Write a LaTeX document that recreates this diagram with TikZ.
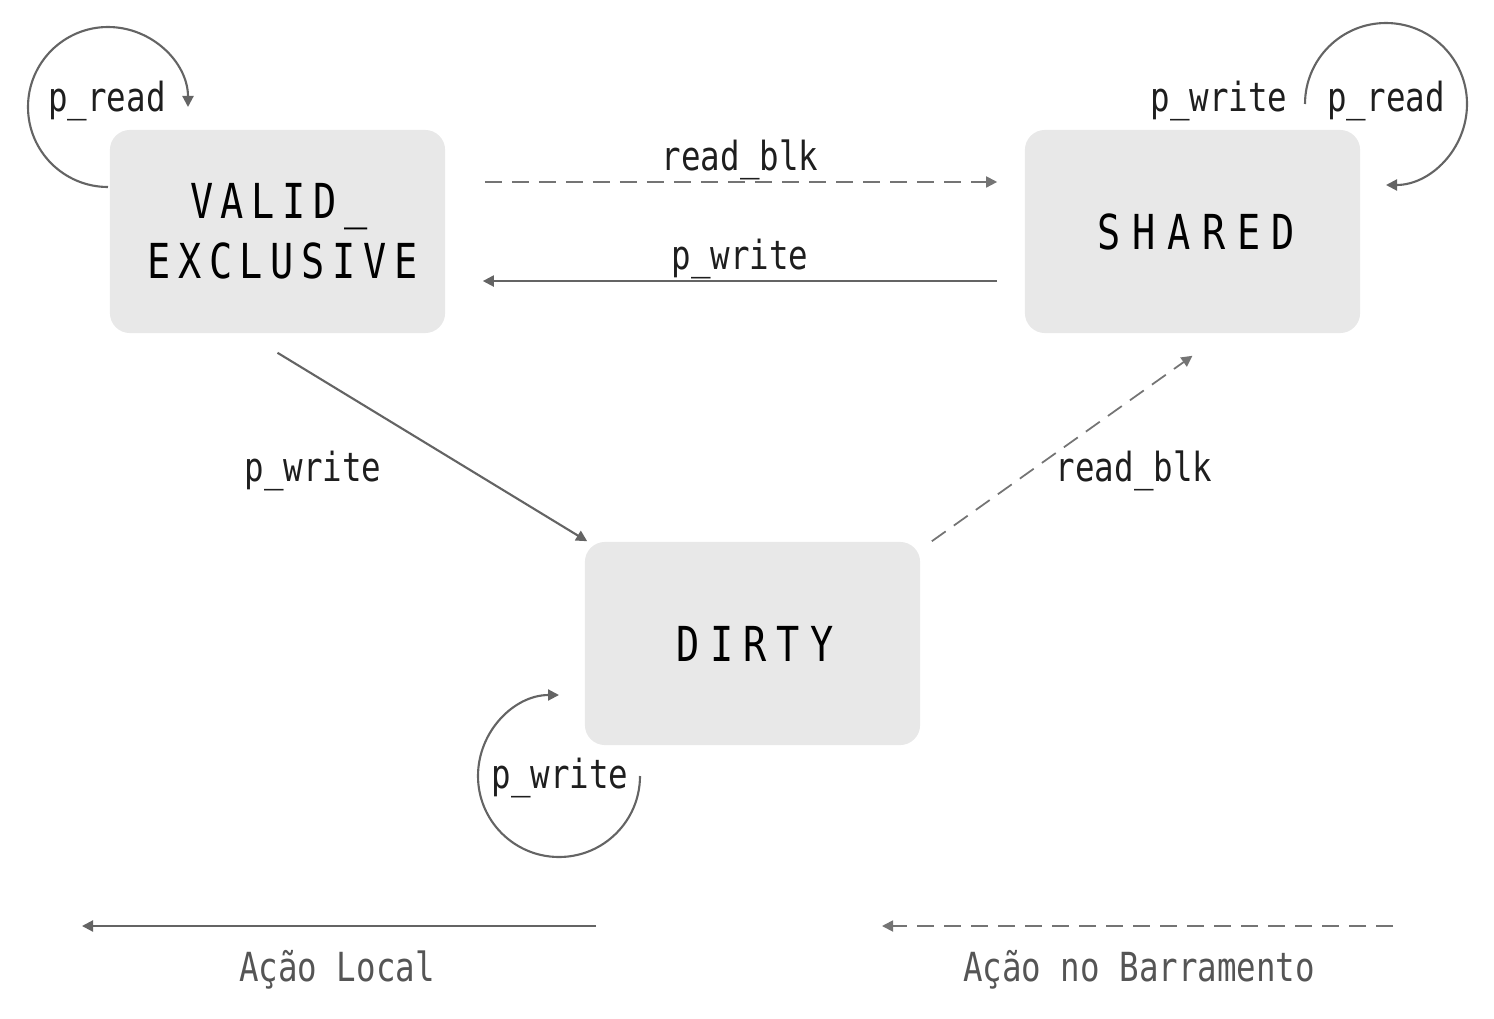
\documentclass[tikz,border=0pt]{standalone}
\usepackage{fontspec}
\usetikzlibrary{arrows.meta}
\newfontfamily\statefont[FakeStretch=0.8]{DejaVu Sans Mono}
\newfontfamily\labelfont[FakeStretch=0.81]{DejaVu Sans Mono}
\newcommand{\track}[1]{\addfontfeature{LetterSpace=#1}}
\definecolor{boxgray}{HTML}{E8E8E8}
\definecolor{linegray}{HTML}{646464}
\definecolor{dashgray}{HTML}{747474}
\definecolor{txtgray}{HTML}{555555}
\definecolor{lbltxt}{HTML}{1E1E1E}

\begin{document}
\begin{tikzpicture}[x=0.01cm,y=-0.01cm,
  state/.style={fill=boxgray,rounded corners=0.2cm,minimum width=3.35cm,minimum height=2.03cm,
    align=center,font=\statefont\fontsize{13.7}{17}\selectfont},
  lbl/.style={text=lbltxt,font=\labelfont\fontsize{11.4}{14}\selectfont},
  local/.style={draw=linegray,line width=0.6pt,-{Triangle[length=0.11cm,width=0.11cm]}},
  bus/.style={draw=dashgray,line width=0.5pt,dash pattern=on 0.17cm off 0.1cm,-{Triangle[length=0.11cm,width=0.11cm]}}]

\useasboundingbox (0,0) rectangle (1494,1018);

\node[state] (ve) at (277.5,231.5) {\kern0.03cm\track{16}VALID\_\\\kern0.1cm\track{16}EXCLUSIVE};
\node[state] (sh) at (1192.5,231.5) {\kern0.08cm\track{24}SHARED};
\node[state] (di) at (752.5,643.5) {\kern0.05cm\track{21}DIRTY};

% transitions between states
\draw[bus] ([yshift=0.495cm]ve.east) ++(39,0) -- ([yshift=0.495cm,xshift=-0.27cm]sh.west);
\draw[local] ([yshift=-0.495cm,xshift=-0.27cm]sh.west) -- ([yshift=-0.495cm,xshift=0.37cm]ve.east);
\draw[local] ([yshift=-0.19cm]ve.south) -- ([xshift=0.03cm]di.north west);
\draw[bus] ([xshift=0.11cm]di.north east) -- ([yshift=-0.22cm]sh.south);

\node[lbl] (rb1) at (740,160) {read\_blk};
\node[lbl] (pw1) at (740,259) {p\_write};
\node[lbl] (pw2) at (313,471) {p\_write};
\node[lbl] (rb2) at (1134,471) {read\_blk};

% loops
\coordinate (veloop) at (108,187);
\coordinate (shloop) at (1305,104);
\coordinate (diloop) at (640,776);
\draw[local] (veloop) arc [start angle=90,end angle=360,radius=80];
\draw[local] (shloop) arc [start angle=180,end angle=450,radius=81];
\draw[local] (diloop) arc [start angle=0,end angle=270,radius=81];

\node[lbl] (pr1) at (107,101) {p\_read};
\node[lbl] (pw3) at (1219,101) {p\_write};
\node[lbl] (pr2) at (1386,101) {p\_read};
\node[lbl] (pw4) at (560,778) {p\_write};

% legend
\coordinate (la) at (596,926);
\coordinate (lb) at (82,926);
\coordinate (ba) at (1393,926);
\coordinate (bb) at (882,926);
\draw[local] (la) -- (lb);
\draw[bus] (ba) -- (bb);
\node[lbl,text=txtgray] (loc) at (337,970) {Ação Local};
\node[lbl,text=txtgray] (bar) at (1139,970) {Ação no Barramento};

\end{tikzpicture}
\end{document}
